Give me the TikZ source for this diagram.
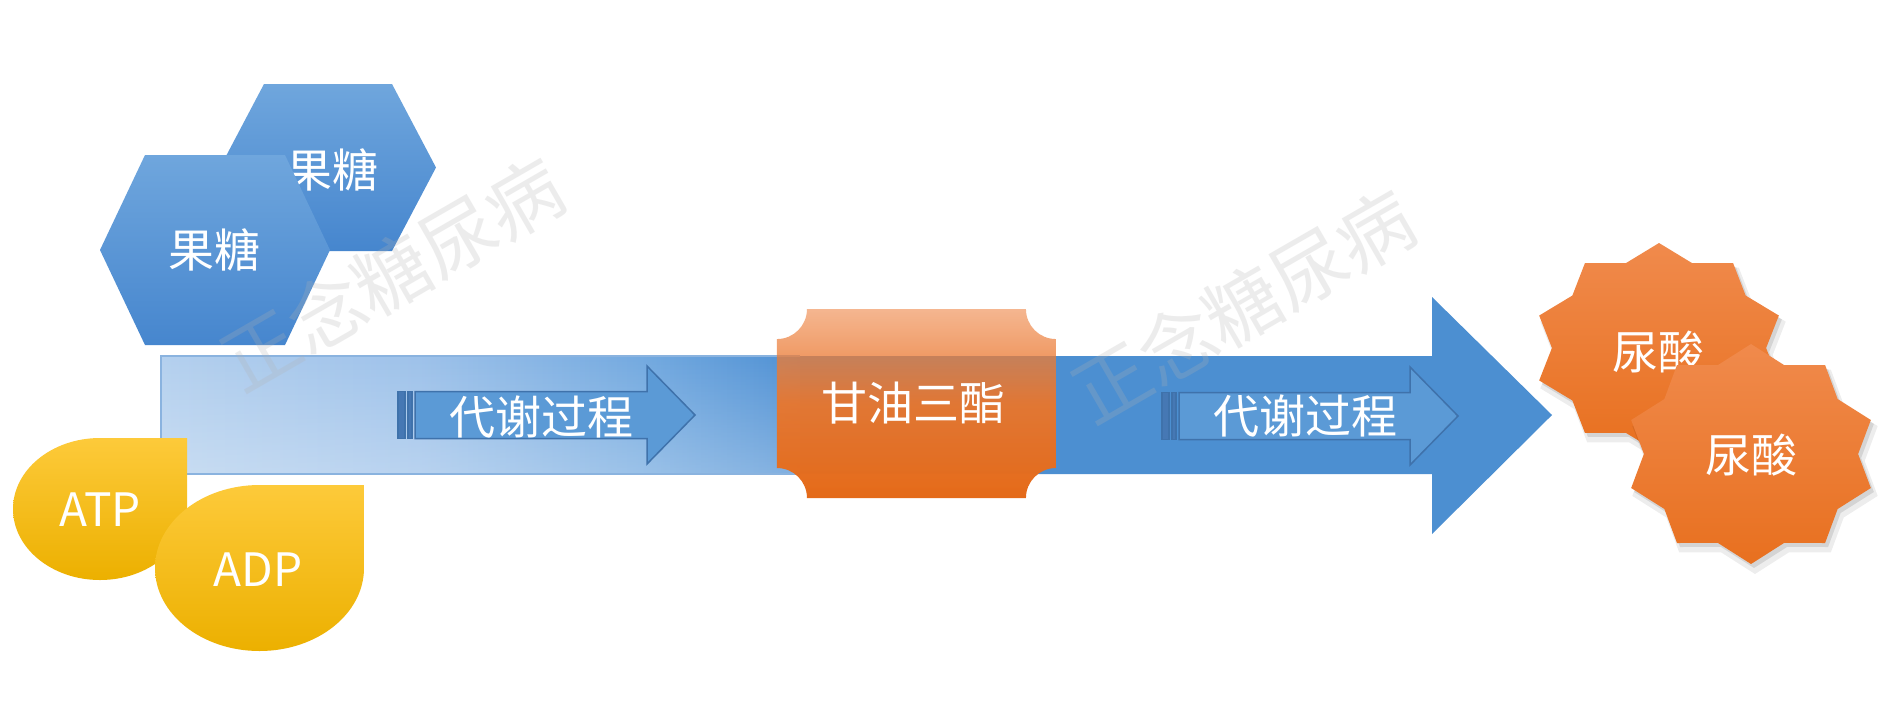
\documentclass[tikz,border=0pt]{standalone}
\usepackage{fontspec}
\setmainfont{Noto Sans CJK SC}
\usetikzlibrary{fadings}
\definecolor{bluemain}{HTML}{4C8FD1}
\definecolor{barline}{HTML}{8AB3DF}
\definecolor{hextop}{HTML}{6FA6DD}
\definecolor{hexbot}{HTML}{4686CE}
\definecolor{arrfill}{HTML}{5B9AD6}
\definecolor{arrline}{HTML}{3F72AB}
\definecolor{stripefill}{HTML}{4678B4}
\definecolor{orangeT}{HTML}{EE8240}
\definecolor{orangeB}{HTML}{E46A19}
\definecolor{yelT}{HTML}{FDCA3A}
\definecolor{yelB}{HTML}{ECB000}
\definecolor{starT}{HTML}{F08A4C}
\definecolor{starB}{HTML}{E8701F}
\pgfdeclarehorizontalshading{barshade}{100bp}{%
  color(0bp)=(rgb,255:red,180;green,208;blue,238);
  color(25bp)=(rgb,255:red,180;green,208;blue,238);
  color(45bp)=(rgb,255:red,158;green,194;blue,234);
  color(62.5bp)=(rgb,255:red,116;green,170;blue,224);
  color(75bp)=(rgb,255:red,80;green,145;blue,212);
  color(100bp)=(rgb,255:red,80;green,145;blue,212)}
\tikzfading[name=boxfade, top color=transparent!42, bottom color=transparent!0, middle color=transparent!5]
\tikzfading[name=barfade, top color=transparent!100, bottom color=transparent!72]
\newcommand{\stripedarrow}[4]{%
  \filldraw[stripefill, draw=arrline, line width=1.2] (#1,#4-23.5) rectangle (#1+7,#4+23.5);
  \filldraw[stripefill, draw=arrline, line width=1.2] (#1+10,#4-23.5) rectangle (#1+14,#4+23.5);
  \filldraw[arrfill, draw=arrline, line width=1.5] (#1+17,#4-23.5) -- (#2,#4-23.5) -- (#2,#4-49) -- (#3,#4) -- (#2,#4+49) -- (#2,#4+23.5) -- (#1+17,#4+23.5) -- cycle;
}
\newcommand{\starpath}[4]{% cx, cy, rx, ry
  ([shift={(#1,#2)}]90:#3 and #4)
  \foreach \a [evaluate=\a as \r using {mod(\a,2)==0 ? 1 : 0.85}] in {1,...,19} {
    -- ([shift={(#1,#2)}]{90+18*\a}:{#3*\r} and {#4*\r})
  } -- cycle
}
\begin{document}
\begin{tikzpicture}[x=1pt,y=-1pt,
  txt/.style={text=white, font=\fontsize{46}{50}\selectfont, inner sep=0pt},
  wm/.style={text=black!30, text opacity=0.24, font=\fontsize{76}{86}\selectfont, rotate=30, inner sep=0pt},
  hexshade/.style={top color=hextop, bottom color=hexbot},
  yshade/.style={top color=yelT, bottom color=yelB},
  starshade/.style={top color=starT, bottom color=starB},
  shadowA/.style={fill=black, opacity=0.10},
  shadowB/.style={fill=black, opacity=0.07}
]
\useasboundingbox (0,0) rectangle (1878,716);
\fill[white] (0,0) rectangle (1878,716);

% hexagons
\shade[hexshade] (220,167.5) -- (264,84) -- (392,84) -- (436,167.5) -- (392,251) -- (264,251) -- cycle;
\node[txt] (fruc2) at (332,170) {果糖};
\shade[hexshade] (100,250) -- (145,155) -- (285,155) -- (330,250) -- (285,345) -- (145,345) -- cycle;
\node[txt] (fruc1) at (214,250) {果糖};

% big arrow and light bar
\fill[bluemain] (161,356) -- (1432,356) -- (1432,297) -- (1552,415) -- (1432,534) -- (1432,474) -- (161,474) -- cycle;
\shade[shading=barshade] (161,356) rectangle (800,474);
\fill[white, path fading=barfade] (161,356) rectangle (800,474);
\draw[barline, line width=1.2] (800,356) -- (161,356) -- (161,474) -- (800,474);

% small striped arrows
\stripedarrow{398}{647}{695}{415}
\node[txt] (proc1) at (541,417) {代谢过程};
\stripedarrow{1162}{1410}{1458}{416}
\node[txt] (proc2) at (1305,416) {代谢过程};

% plaque box (concave corners)
\shade[top color=orangeT, bottom color=orangeB, path fading=boxfade]
  (807,309) -- (1026,309) .. controls (1026,325.6) and (1039.4,339) .. (1056,339)
  -- (1056,468) .. controls (1039.4,468) and (1026,481.4) .. (1026,498)
  -- (807,498) .. controls (807,481.4) and (793.6,468) .. (777,468)
  -- (777,339) .. controls (793.6,339) and (807,325.6) .. (807,309) -- cycle;
\node[txt] (tg) at (913,403) {甘油三酯};

% teardrops
\shade[yshade] (100,438) -- (187,438) -- (187,509) arc[start angle=0, end angle=270, x radius=87, y radius=71] -- cycle;
\node[txt] (atp) at (100,510) {ATP};
\shade[yshade] (259.5,485) -- (364,485) -- (364,568) arc[start angle=0, end angle=270, x radius=104.5, y radius=83] -- cycle;
\node[txt] (adp) at (258,570) {ADP};

% stars
\fill[shadowB] \starpath{1663}{355}{129}{108};
\fill[shadowA] \starpath{1662}{352}{126}{105};
\shade[starshade] \starpath{1659}{348}{126}{105};
\node[txt] (ua1) at (1658,352) {尿酸};
\fill[shadowB] \starpath{1755}{461}{129}{113};
\fill[shadowA] \starpath{1754}{458}{126}{110};
\shade[starshade] \starpath{1751}{454}{126}{110};
\node[txt] (ua2) at (1751,455) {尿酸};

% watermarks
\node[wm] (wm1) at (392,274) {正念糖尿病};
\node[wm] (wm2) at (1243,306) {正念糖尿病};
\end{tikzpicture}
\end{document}
